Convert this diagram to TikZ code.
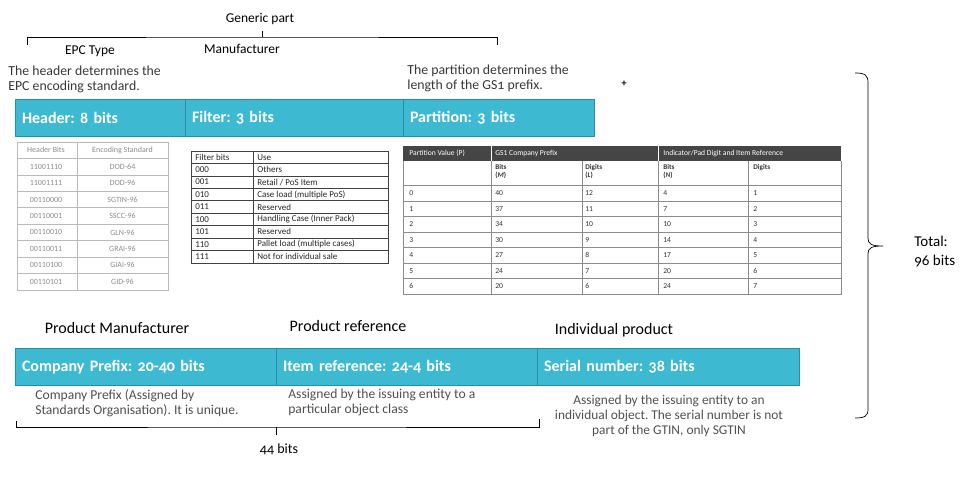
\documentclass[tikz,border=0pt]{standalone}
\usepackage{fontspec}
\setmainfont[Numbers=OldStyle]{Carlito}
\newfontfamily\tabfont{Carlito}
\definecolor{barcol}{HTML}{3EB9D2}
\definecolor{barline}{HTML}{2A8EA2}
\definecolor{notegray}{HTML}{505050}
\definecolor{topgray}{HTML}{383838}
\definecolor{tabgray}{HTML}{8C8C8C}
\definecolor{darkhead}{HTML}{454545}

\begin{document}
\frenchspacing
\begin{tikzpicture}[x=1pt, y=-1pt, line width=0.7pt,
	epcbar/.style={draw=barline, fill=barcol, line width=0.8pt, text=white, outer sep=0pt,
		font=\fontsize{16}{18}\selectfont\bfseries, minimum height=37pt, inner xsep=7pt, align=left, anchor=west},
	lbl/.style={font=\fontsize{13.5}{15}\selectfont},
	biglbl/.style={font=\fontsize{16}{18}\selectfont},
	note/.style={font=\fontsize{13.8}{15}\selectfont, align=left, inner sep=0pt, anchor=north west},
	htab/.style={font=\tabfont\fontsize{8}{9}\selectfont, text=tabgray, inner sep=0pt},
	ftab/.style={font=\tabfont\fontsize{9}{10}\selectfont, text=black!85, inner sep=0pt, anchor=west},
	ptab/.style={font=\tabfont\fontsize{7.6}{8.2}\selectfont, text=black!80, inner sep=0pt, anchor=west},
	phead/.style={ptab, font=\tabfont\bfseries\fontsize{7.2}{8}\selectfont, align=left, anchor=north west}]
	\useasboundingbox (0,0) rectangle (976,476);

	% 1. 顶部括号: Generic part
	\node[lbl] (generic) at (260,19) {Generic part};
	\coordinate (gpL) at (27,45); \coordinate (gpR) at (497,45); \coordinate (gpM) at (262,37);
	\draw (gpL) |- (gpM) -| (gpR);
	\draw (gpM) -- ++(0,-6);
	\node[lbl] (epctype) at (90,51) {EPC Type};
	\node[lbl] (manuf) at (242,49) {Manufacturer};
	\node[note, text=topgray] (headnote) at (8,66) {The header determines the\\EPC encoding standard.};
	\node[note, text=topgray] (partnote) at (407,65) {The partition determines the\\length of the GS1 prefix.};
	\node[font=\bfseries\fontsize{10}{10}\selectfont, inner sep=0pt] (plus) at (624,84) {+};

	% 2. 上方数据条
	\node[epcbar, text width=156pt] (header) at (15,118) {Header: 8 bits};
	\node[epcbar, text width=204pt] (filter) at (header.east) {Filter: 3 bits};
	\node[epcbar, text width=177pt] (partition) at (filter.east) {Partition: 3 bits};

	% 3. Header 表
	\draw[tabgray!60, line width=0.6pt] (17,142) rectangle (168,290) (77,142) -- (77,290);
	\foreach \k in {1,...,8} \draw[tabgray!60, line width=0.6pt] (17,{142+16.44*\k}) -- (168,{142+16.44*\k});
	\node[htab] (hbh) at (46,150.2) {Header Bits};
	\node[htab] (hsh) at (122.5,150.2) {Encoding Standard};
	\foreach \b/\s [count=\i] in {11001110/DOD-64, 11001111/DOD-96, 00110000/SGTIN-96, 00110001/SSCC-96,
		00110010/GLN-96, 00110011/GRAI-96, 00110100/GIAI-96, 00110101/GID-96} {
		\node[htab] (hb\i) at (46,{142+16.44*(\i+0.5)}) {\b};
		\node[htab] (hs\i) at (122.5,{142+16.44*(\i+0.5)}) {\s};
	}

	% 4. Filter 表
	\draw[black!75, line width=0.6pt] (191,151) rectangle (388,263) (253,151) -- (253,263);
	\foreach \k in {1,...,8} \draw[black!75, line width=0.6pt] (191,{151+12.44*\k}) -- (388,{151+12.44*\k});
	\node[ftab] (fbh) at (195,157.2) {Filter bits};
	\node[ftab] (fuh) at (257,157.2) {Use};
	\foreach \b/\u [count=\i] in {000/Others, 001/{Retail / PoS Item}, 010/{Case load (multiple PoS)}, 011/Reserved,
		100/{Handling Case (Inner Pack)}, 101/Reserved, 110/{Pallet load (multiple cases)}, 111/{Not for individual sale}} {
		\node[ftab] (fb\i) at (195,{151+12.44*(\i+0.5)}) {\b};
		\node[ftab] (fu\i) at (257,{151+12.44*(\i+0.5)}) {\u};
	}

	% 5. Partition 表
	\fill[darkhead] (403,146) rectangle (841,160.7);
	\draw[white, line width=0.8pt] (491,146) -- (491,160.7) (658,146) -- (658,160.7);
	\draw[tabgray, line width=0.6pt] (403,160.7) -- (403,294) -- (841,294) -- (841,160.7);
	\foreach \c in {491,582,658,748} \draw[tabgray, line width=0.6pt] (\c,160.7) -- (\c,294);
	\foreach \k in {0,...,6} \draw[tabgray, line width=0.6pt] (403,{185.7+15.47*\k}) -- (841,{185.7+15.47*\k});
	\node[ptab, text=white] (pvh) at (409,153.3) {Partition Value (P)};
	\node[ptab, text=white] (gsh) at (495,153.3) {GS1 Company Prefix};
	\node[ptab, text=white] (irh) at (663,153.3) {Indicator/Pad Digit and Item Reference};
	\node[phead] (mh) at (495,164) {Bits\\(\textit{M})};
	\node[phead] (lh) at (585,164) {Digits\\(\textit{L})};
	\node[phead] (nh) at (663,164) {Bits\\(\textit{N})};
	\node[phead] (dh) at (753,164) {Digits};
	\foreach \m/\l/\n [count=\i from 0] in {40/12/4, 37/11/7, 34/10/10, 30/9/14, 27/8/17, 24/7/20, 20/6/24} {
		\node[ptab] (pv\i) at (409,{185.7+15.47*(\i+0.5)}) {\i};
		\node[ptab] (pm\i) at (495,{185.7+15.47*(\i+0.5)}) {\m};
		\node[ptab] (pl\i) at (585,{185.7+15.47*(\i+0.5)}) {\l};
		\node[ptab] (pn\i) at (663,{185.7+15.47*(\i+0.5)}) {\n};
		\node[ptab] (pd\i) at (753,{185.7+15.47*(\i+0.5)}) {\pgfmathparse{int(\i+1)}\pgfmathresult};
	}

	% 6. 下方数据条与标签
	\node[biglbl] (prodman) at (117,328) {Product Manufacturer};
	\node[biglbl] (prodref) at (348,326) {Product reference};
	\node[biglbl] (indiv) at (614,330) {Individual product};
	\node[epcbar, text width=247pt] (prefix) at (15,367) {Company Prefix: 20-40 bits};
	\node[epcbar, text width=247pt] (itemref) at (prefix.east) {Item reference: 24-4 bits};
	\node[epcbar, text width=248pt] (serial) at (itemref.east) {Serial number: 38 bits};
	\node[note, text=notegray, font=\fontsize{13.6}{15}\selectfont] (prefixnote) at (35,389) {Company Prefix (Assigned by\\Standards Organisation). It is unique.};
	\node[note, text=notegray, font=\fontsize{13.6}{15}\selectfont] (itemnote) at (288,389) {Assigned by the issuing entity to a\\particular object class};
	\node[note, text=notegray, font=\fontsize{13.4}{15}\selectfont, align=center, anchor=north] (serialnote) at (669,395) {Assigned by the issuing entity to an\\individual object. The serial number is not\\part of the GTIN, only SGTIN};

	% 7. 底部括号: 44 bits
	\coordinate (bbL) at (16,421); \coordinate (bbR) at (539,419); \coordinate (bbM) at (276,427);
	\draw (bbL) |- (bbM) -| (bbR);
	\draw (bbM) -- ++(0,8);
	\node[font=\fontsize{14}{16}\selectfont] (bits44) at (279,449) {44 bits};

	% 8. 右侧大括号: Total
	\coordinate (brT) at (855,73); \coordinate (brB) at (855,418); \coordinate (brM) at (883,246);
	\draw (brT) .. controls (865,73) and (868,75) .. (868,83) -- (868,238)
		.. controls (868,244) and (871,246) .. (brM)
		.. controls (871,246) and (868,248) .. (868,254) -- (868,409)
		.. controls (868,416) and (865,418) .. (brB);
	\node[anchor=north west, align=left, inner sep=0pt, font=\fontsize{15}{19}\selectfont] (total) at (914,236) {Total:\\96 bits};
\end{tikzpicture}
\end{document}
